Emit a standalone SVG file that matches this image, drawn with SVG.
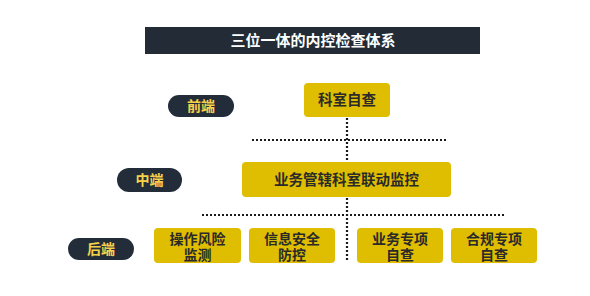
<svg xmlns="http://www.w3.org/2000/svg" width="590" height="296" viewBox="0 0 590 296">
<defs>
<style>
.box{fill:#dfbd00;}
.pill{fill:#232d3a;}
.bt{font-family:"Noto Sans CJK SC","Noto Sans",sans-serif;font-weight:bold;font-size:14.5px;fill:#2a2a2a;text-anchor:middle;}
.bt2{font-family:"Noto Sans CJK SC","Noto Sans",sans-serif;font-weight:bold;font-size:14px;fill:#2a2a2a;text-anchor:middle;}
.pt{font-family:"Noto Sans CJK SC","Noto Sans",sans-serif;font-weight:bold;font-size:14px;fill:#f6d24b;text-anchor:middle;}
.dot{stroke:#1a1a1a;stroke-width:2.2;stroke-dasharray:2 2;fill:none;}
</style>
</defs>
<rect width="590" height="296" fill="#ffffff"/>
<g id="title">
<rect x="145" y="27" width="335" height="27" fill="#222b36"/>
<text x="313" y="46" font-family="Noto Sans CJK SC, sans-serif" font-weight="bold" font-size="15" fill="#ffffff" text-anchor="middle">三位一体的内控检查体系</text>
</g>
<g id="connectors">
<line class="dot" x1="347" y1="118" x2="347" y2="162"/>
<line class="dot" x1="252" y1="140" x2="446" y2="140"/>
<line class="dot" x1="347" y1="198" x2="347" y2="262"/>
<line class="dot" x1="202" y1="215" x2="506" y2="215"/>
</g>
<g id="label-front">
<rect class="pill" x="168" y="95" width="66" height="22" rx="11"/>
<text class="pt" x="201" y="111">前端</text>
</g>
<g id="label-mid">
<rect class="pill" x="117" y="168" width="65" height="24" rx="12"/>
<text class="pt" x="149.5" y="185">中端</text>
</g>
<g id="label-back">
<rect class="pill" x="68" y="238" width="66" height="22" rx="11"/>
<text class="pt" x="101" y="254">后端</text>
</g>
<g id="node-keshi">
<rect class="box" x="304" y="83" width="86" height="34" rx="4"/>
<text class="bt" x="347" y="105" font-size="15">科室自查</text>
</g>
<g id="node-yewu">
<rect class="box" x="242" y="162" width="209" height="35" rx="4"/>
<text class="bt" x="346.5" y="185">业务管辖科室联动监控</text>
</g>
<g id="node-caozuo">
<rect class="box" x="154" y="228" width="87" height="35" rx="4"/>
<text class="bt2" x="197.5" y="243.5">操作风险</text>
<text class="bt2" x="197.5" y="260">监测</text>
</g>
<g id="node-xinxi">
<rect class="box" x="249" y="228" width="86" height="35" rx="4"/>
<text class="bt2" x="292" y="243.5">信息安全</text>
<text class="bt2" x="292" y="260">防控</text>
</g>
<g id="node-zhuanxiang">
<rect class="box" x="357" y="228" width="86" height="35" rx="4"/>
<text class="bt2" x="400" y="243.5">业务专项</text>
<text class="bt2" x="400" y="260">自查</text>
</g>
<g id="node-hegui">
<rect class="box" x="451" y="228" width="86" height="35" rx="4"/>
<text class="bt2" x="494" y="243.5">合规专项</text>
<text class="bt2" x="494" y="260">自查</text>
</g>
</svg>
